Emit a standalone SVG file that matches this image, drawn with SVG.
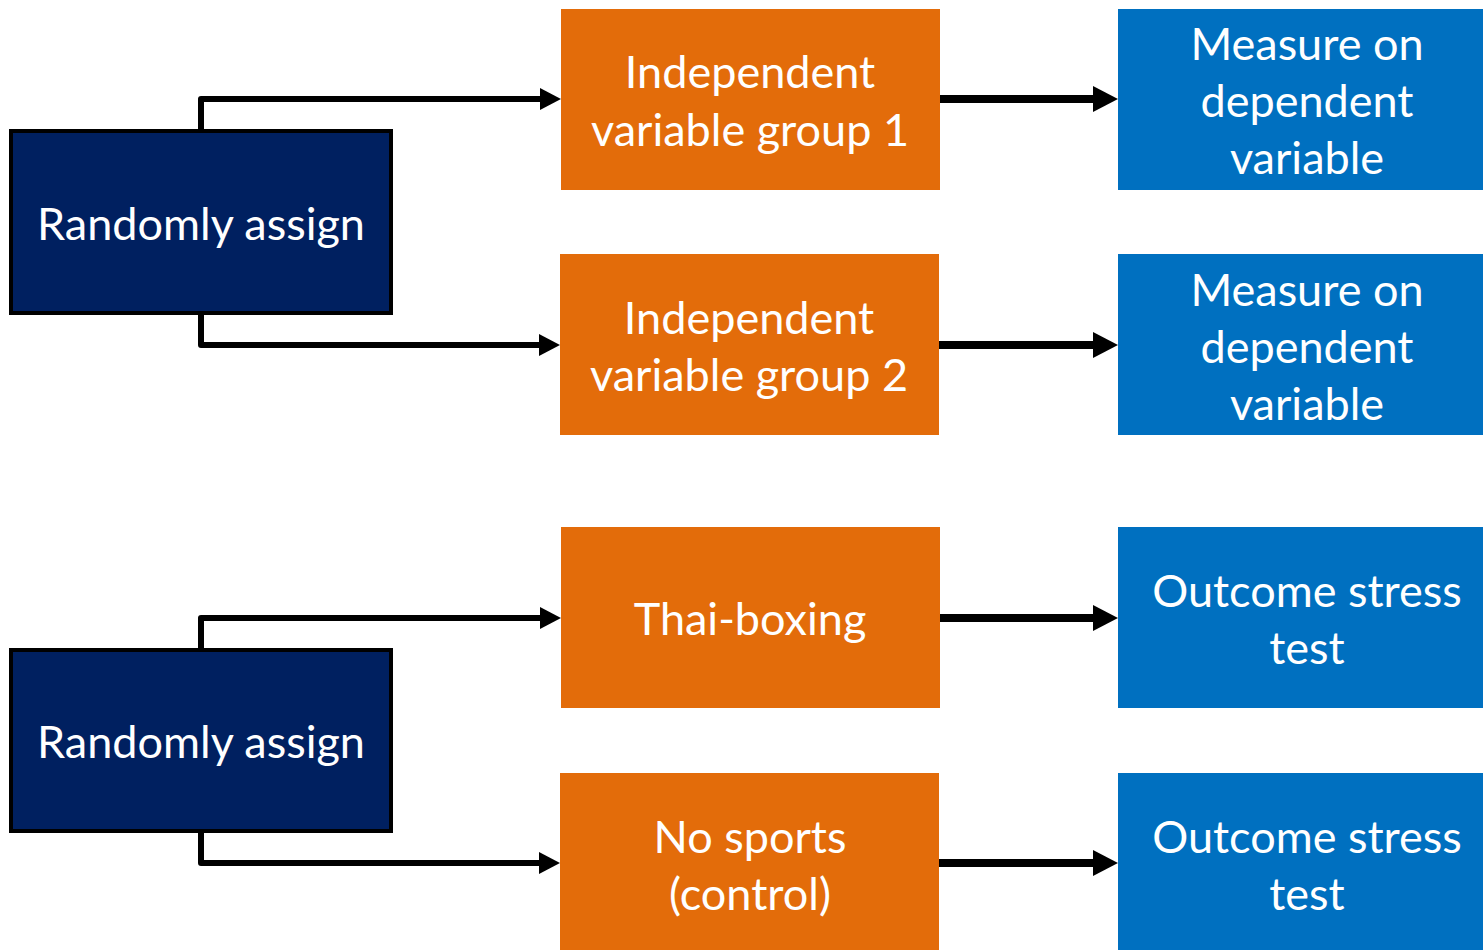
<svg xmlns="http://www.w3.org/2000/svg" width="1483" height="950" viewBox="0 0 1483 950">
<defs>
<style>
.navy{fill:#002060;stroke:#000;stroke-width:4}
.orange{fill:#E36C0A}
.blue{fill:#0070C0}
text{font-family:Lato,"Open Sans",sans-serif;font-size:45px;fill:#fff;text-anchor:middle;dominant-baseline:central}
.conn{fill:none;stroke:#000;stroke-width:6;stroke-linejoin:round}
.conn2{fill:none;stroke:#000;stroke-width:8}
</style>
<marker id="ah" markerUnits="userSpaceOnUse" markerWidth="22" markerHeight="24" refX="0" refY="12" orient="auto" overflow="visible">
<path d="M0,1 L21,12 L0,23 Z" fill="#000"/>
</marker>
<marker id="ah2" markerUnits="userSpaceOnUse" markerWidth="26" markerHeight="28" refX="0" refY="14" orient="auto" overflow="visible">
<path d="M0,1 L25,14 L0,27 Z" fill="#000"/>
</marker>
</defs>
<rect width="1483" height="950" fill="#fff"/>
<g id="connectors">
<path class="conn" d="M201,130 V99 H540" marker-end="url(#ah)"/>
<path class="conn" d="M201,314 V345 H539" marker-end="url(#ah)"/>
<path class="conn2" d="M940,99 H1093" marker-end="url(#ah2)"/>
<path class="conn2" d="M939,345 H1093" marker-end="url(#ah2)"/>
<path class="conn" d="M201,649 V618 H540" marker-end="url(#ah)"/>
<path class="conn" d="M201,832 V863 H539" marker-end="url(#ah)"/>
<path class="conn2" d="M940,618 H1093" marker-end="url(#ah2)"/>
<path class="conn2" d="M939,863 H1093" marker-end="url(#ah2)"/>
</g>
<g id="assign1"><rect class="navy" x="11" y="131" width="380" height="182"/><text x="201" y="223">Randomly assign</text></g>
<g id="ivg1"><rect class="orange" x="561" y="9" width="379" height="181"/><text x="750" y="71">Independent</text><text x="750" y="129">variable group 1</text></g>
<g id="ivg2"><rect class="orange" x="560" y="254" width="379" height="181"/><text x="749" y="317">Independent</text><text x="749" y="374">variable group 2</text></g>
<g id="measure1"><rect class="blue" x="1118" y="9" width="365" height="181"/><text x="1307" y="43">Measure on</text><text x="1307" y="100">dependent</text><text x="1307" y="157">variable</text></g>
<g id="measure2"><rect class="blue" x="1118" y="254" width="365" height="181"/><text x="1307" y="289">Measure on</text><text x="1307" y="346">dependent</text><text x="1307" y="403">variable</text></g>
<g id="assign2"><rect class="navy" x="11" y="650" width="380" height="181"/><text x="201" y="741">Randomly assign</text></g>
<g id="thai"><rect class="orange" x="561" y="527" width="379" height="181"/><text x="750" y="618">Thai-boxing</text></g>
<g id="nosports"><rect class="orange" x="560" y="773" width="379" height="177"/><text x="750" y="836">No sports</text><text x="750" y="893">(control)</text></g>
<g id="stress1"><rect class="blue" x="1118" y="527" width="365" height="181"/><text x="1307" y="590">Outcome stress</text><text x="1307" y="647">test</text></g>
<g id="stress2"><rect class="blue" x="1118" y="773" width="365" height="177"/><text x="1307" y="836">Outcome stress</text><text x="1307" y="893">test</text></g>
</svg>
